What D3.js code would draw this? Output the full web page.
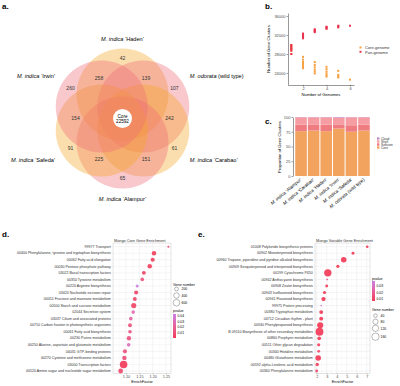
<!DOCTYPE html>
<html lang="en">
<head>
<meta charset="UTF-8">
<title>Mango pan-genome figure</title>
<script src="https://d3js.org/d3.v7.min.js"></script>
<style>
  body { margin: 0; background: #fff; }
  svg { display: block; font-family: "Liberation Sans", Arial, sans-serif; }
  .tick text { fill: #4d4d4d; }
</style>
</head>
<body>
<div class="main"></div>
<script>
// ---------- data ----------
// a. venn (clockwise from top)
var vennSpecies  = ["M. indica", "M. odorata", "M. indica", "M. indica", "M. indica", "M. indica"];
var vennCultivar = [" \u2018Haden\u2019", " (wild type)", " \u2018Carabao\u2019", " \u2018Alampur\u2019", " \u2018Safeda\u2019", " \u2018Irwin\u2019"];
var vennUnique = [42, 107, 61, 65, 91, 260];
var vennPairs  = [139, 242, 151, 225, 154, 258];   // set i with set i+1
var vennCore = 22592;

// b. gene clusters vs number of genomes
var genomeCounts = [1, 2, 3, 4, 5, 6];
var coreClusters = [
  [29900, 29600, 29300, 29000, 28700, 28000],
  [27400, 26800, 26300, 25900, 25500, 25200, 25000],
  [26300, 25700, 25200, 24700, 24300, 23900],
  [25300, 24800, 24300, 23900, 23500, 23250],
  [24450, 23600, 23300, 23050],
  [22600]
];
var panClusters = [
  [29900, 29600, 29300, 29000, 28700, 28000],
  [32300, 32100, 31900, 31800, 31600, 31400, 31300],
  [33200, 33050, 32900, 32750, 32600],
  [33750, 33600, 33450, 33300],
  [33950, 33800, 33600],
  [33950]
];
var bTicksY = [24000, 28000, 32000, 36000];
var bTicksX = [2, 4, 6];

// c. proportion of gene clusters
var cSamples = ["Alampur", "Carabao", "Haden", "Irwin", "Safeda", "odorata"];
var cSpecies = ["M. indica", "M. indica", "M. indica", "M. indica", "M. indica", "M. odorata"];
var cCultivar = [" \u2018Alampur\u2019", " \u2018Carabao\u2019", " \u2018Haden\u2019", " \u2018Irwin\u2019", " \u2018Safeda\u2019", " (wild type)"];
var coreShare     = [76, 77, 76, 80.5, 75, 77];
var softcoreShare = [11, 10.5, 11, 7, 11, 10];
var shellShare    = [12.5, 12, 12.5, 11.5, 13.5, 12.5];
var cloudShare    = [0.5, 0.5, 0.5, 1, 0.5, 0.5];
var cTicks = [0, 25, 50, 75, 100];

// d. core gene enrichment
var dPathways = ["99977 Transport", "00400 Phenylalanine, tyrosine and tryptophan biosynthesis",
  "00062 Fatty acid elongation", "00030 Pentose phosphate pathway", "03022 Basal transcription factors",
  "00350 Tyrosine metabolism", "00220 Arginine biosynthesis", "03420 Nucleotide excision repair",
  "00051 Fructose and mannose metabolism", "00500 Starch and sucrose metabolism", "02044 Secretion system",
  "03037 Cilium and associated proteins", "00710 Carbon fixation in photosynthetic organisms",
  "00061 Fatty acid biosynthesis", "00230 Purine metabolism", "00250 Alanine, aspartate and glutamate metabolism",
  "04031 GTP-binding proteins", "00270 Cysteine and methionine metabolism", "03000 Transcription factors",
  "00520 Amino sugar and nucleotide sugar metabolism"];
var dEnrich = [1.259, 1.205, 1.200, 1.189, 1.167, 1.161, 1.142, 1.138, 1.133, 1.129, 1.127, 1.118, 1.115, 1.115, 1.111, 1.110, 1.096, 1.094, 1.091, 1.080];
var dGenes  = [60, 260, 230, 270, 200, 170, 120, 220, 200, 350, 170, 170, 200, 170, 250, 170, 220, 250, 760, 300];
var dPvalue = [0.008, 0.002, 0.004, 0.003, 0.006, 0.012, 0.043, 0.006, 0.006, 0.005, 0.028, 0.022, 0.012, 0.015, 0.014, 0.033, 0.012, 0.010, 0.001, 0.008];
var dTicks = [1.10, 1.15, 1.20, 1.25];
var dSizeLegend = [200, 400, 600];
var dPTicks = [0.01, 0.02, 0.03, 0.04];

// e. variable gene enrichment
var ePathways = ["01008 Polyketide biosynthesis proteins", "00902 Monoterpenoid biosynthesis",
  "00960 Tropane, piperidine and pyridine alkaloid biosynthesis", "00909 Sesquiterpenoid and triterpenoid biosynthesis",
  "00199 Cytochrome P450", "00942 Anthocyanin biosynthesis", "00908 Zeatin biosynthesis",
  "00943 Isoflavonoid biosynthesis", "00941 Flavonoid biosynthesis", "99975 Protein processing",
  "00380 Tryptophan metabolism", "04712 Circadian rhythm - plant", "00940 Phenylpropanoid biosynthesis",
  "B  09110 Biosynthesis of other secondary metabolites", "00860 Porphyrin metabolism", "00511 Other glycan degradation",
  "00340 Histidine metabolism", "00480 Glutathione metabolism", "00592 alpha-Linolenic acid metabolism",
  "00360 Phenylalanine metabolism"];
var eEnrich = [7.05, 5.63, 4.70, 4.12, 3.11, 3.05, 3.00, 2.78, 2.68, 2.45, 2.45, 2.45, 2.35, 2.28, 2.25, 2.20, 2.20, 2.15, 2.05, 2.00];
var eGenes  = [20, 25, 90, 30, 160, 10, 25, 30, 55, 8, 45, 45, 110, 180, 40, 30, 25, 90, 35, 25];
var ePvalue = [0.008, 0.007, 0.007, 0.007, 0.007, 0.020, 0.008, 0.007, 0.007, 0.035, 0.007, 0.008, 0.007, 0.007, 0.008, 0.010, 0.012, 0.007, 0.010, 0.012];
var eTicks = [2, 3, 4, 5, 6, 7];
var eSizeLegend = [40, 80, 120, 160];
var ePTicks = [0.01, 0.02, 0.03];

// ---------- drawing ----------
var width = 400, height = 386;
var svg = d3.select(".main").append("svg").attr("width", width).attr("height", height);

function panelLabel(x, y, t) {
  svg.append("text").attr("x", x).attr("y", y).style("font-size", "8px").style("font-weight", "bold").text(t);
}
function italicLabel(g, sp, cv) {
  g.append("tspan").style("font-style", "italic").text(sp);
  g.append("tspan").text(cv);
}
function thinAxis(g) {
  g.selectAll("text").style("font-size", "4px");
  g.selectAll("line,path").style("stroke-width", 0.4);
}

// ===== a. venn =====
panelLabel(2, 9, "a.");
var vcx = 122.5, vcy = 118.5, vDist = 24, vR = 46;
var vennColors = ["#F5A623", "#EE6A78"];
function polar(deg, r) {
  var a = deg * Math.PI / 180;
  return [vcx + r * Math.cos(a), vcy - r * Math.sin(a)];
}
var setAngles = vennUnique.map(function(d, i) { return 90 - 60 * i; });
var va = svg.append("g");
va.selectAll("circle.set").data(setAngles).join("circle")
  .attr("class", "set")
  .attr("cx", function(d) { return polar(d, vDist)[0]; })
  .attr("cy", function(d) { return polar(d, vDist)[1]; })
  .attr("r", vR)
  .style("fill", function(d, i) { return vennColors[i % 2]; })
  .style("fill-opacity", 0.37);

va.selectAll("text.uniq").data(vennUnique).join("text")
  .attr("x", function(d, i) { return polar(setAngles[i], 60)[0]; })
  .attr("y", function(d, i) { return polar(setAngles[i], 60)[1] + 1.8; })
  .attr("text-anchor", "middle").style("font-size", "5px").style("fill", "#333")
  .text(function(d) { return d; });
va.selectAll("text.pair").data(vennPairs).join("text")
  .attr("x", function(d, i) { return polar(setAngles[i] - 30, 47)[0]; })
  .attr("y", function(d, i) { return polar(setAngles[i] - 30, 47)[1] + 1.8; })
  .attr("text-anchor", "middle").style("font-size", "5px").style("fill", "#333")
  .text(function(d) { return d; });

va.append("circle").attr("cx", vcx).attr("cy", vcy).attr("r", 9.5).style("fill", "#fff");
va.append("text").attr("x", vcx).attr("y", vcy - 0.5).attr("text-anchor", "middle").style("font-size", "4.6px").text("Core");
va.append("text").attr("x", vcx).attr("y", vcy + 4.5).attr("text-anchor", "middle").style("font-size", "4.6px").text(vennCore);

vennSpecies.forEach(function(sp, i) {
  var ang = setAngles[i];
  var p = polar(ang, 80);
  var c = Math.cos(ang * Math.PI / 180);
  var anchor = Math.abs(c) < 0.1 ? "middle" : (c > 0 ? "start" : "end");
  var dy = Math.abs(c) < 0.1 ? 2 : (Math.sin(ang * Math.PI / 180) > 0 ? -0.5 : 3.5);
  var t = svg.append("text").attr("x", p[0] + (anchor == "start" ? -2 : anchor == "end" ? 2 : 0)).attr("y", p[1] + dy)
    .attr("text-anchor", anchor).style("font-size", "5.6px");
  italicLabel(t, sp, vennCultivar[i]);
});

// ===== b. scatter =====
panelLabel(265, 9, "b.");
var bx = d3.scaleLinear().domain([0.72, 6.34]).range([288, 354]);
var by = d3.scaleLinear().domain([21470, 36630]).range([85, 13]);
var gb = svg.append("g");
gb.append("g").attr("transform", "translate(288,0)")
  .call(d3.axisLeft(by).tickValues(bTicksY).tickFormat(d3.format("d")).tickSize(1.5).tickPadding(1).tickSizeOuter(0))
  .call(thinAxis);
gb.append("g").attr("transform", "translate(0,85)")
  .call(d3.axisBottom(bx).tickValues(bTicksX).tickFormat(d3.format("d")).tickSize(1.5).tickPadding(1).tickSizeOuter(0))
  .call(thinAxis);
gb.append("text").attr("transform", "translate(270,49) rotate(-90)").attr("text-anchor", "middle")
  .style("font-size", "4.2px").text("Number of Gene Clusters");
gb.append("text").attr("x", 321).attr("y", 96).attr("text-anchor", "middle").style("font-size", "4.2px").text("Number of Genomes");

var bColors = { core: "#F7A040", pan: "#E8344E" };
[["core", coreClusters], ["pan", panClusters]].forEach(function(s) {
  var pts = [];
  s[1].forEach(function(vals, i) { vals.forEach(function(v) { pts.push([genomeCounts[i], v]); }); });
  gb.selectAll(null).data(pts).join("rect")
    .attr("x", function(d) { return bx(d[0]) - 1; })
    .attr("y", function(d) { return by(d[1]) - 1; })
    .attr("width", 2).attr("height", 2)
    .style("fill", bColors[s[0]]);
});
[["Core-genome", "core"], ["Pan-genome", "pan"]].forEach(function(l, i) {
  gb.append("rect").attr("x", 359.5).attr("y", 46.5 + i * 4.3).attr("width", 2).attr("height", 2).style("fill", bColors[l[1]]);
  gb.append("text").attr("x", 365).attr("y", 49.2 + i * 4.3).style("font-size", "4px").style("fill", "#333").text(l[0]);
});

// ===== c. stacked bars =====
panelLabel(265, 124, "c.");
var cKeys = ["Core", "Softcore", "Shell", "Cloud"];
var cColors = { Core: "#F2A35E", Softcore: "#EE7C80", Shell: "#F59DA2", Cloud: "#C48BC8" };
var cRows = cSamples.map(function(s, i) {
  return { sample: s, Core: coreShare[i], Softcore: softcoreShare[i], Shell: shellShare[i], Cloud: cloudShare[i] };
});
var cxs = d3.scaleBand().domain(cSamples).range([295, 370]).paddingInner(0.08).paddingOuter(0.02);
var cys = d3.scaleLinear().domain([0, 100]).range([176, 117]);
var gc = svg.append("g");
var stacked = d3.stack().keys(cKeys)(cRows);
gc.selectAll("g.layer").data(stacked).join("g").attr("class", "layer")
  .style("fill", function(d) { return cColors[d.key]; })
  .selectAll("rect").data(function(d) { return d; }).join("rect")
  .attr("x", function(d) { return cxs(d.data.sample); })
  .attr("y", function(d) { return cys(d[1]); })
  .attr("width", cxs.bandwidth())
  .attr("height", function(d) { return cys(d[0]) - cys(d[1]); });
gc.append("g").attr("transform", "translate(293,0)")
  .call(d3.axisLeft(cys).tickValues(cTicks).tickSize(1.5).tickPadding(1).tickSizeOuter(0))
  .call(thinAxis);
gc.append("text").attr("transform", "translate(281,147) rotate(-90)").attr("text-anchor", "middle")
  .style("font-size", "4.2px").text("Proportion of Gene Clusters");
cSamples.forEach(function(s, i) {
  var x = cxs(s) + cxs.bandwidth() / 2 + 1;
  var t = gc.append("text").attr("transform", "translate(" + x + ",180) rotate(-40)")
    .attr("text-anchor", "end").style("font-size", "4.6px");
  italicLabel(t, cSpecies[i], cCultivar[i]);
});
cKeys.slice().reverse().forEach(function(k, i) {
  gc.append("rect").attr("x", 377).attr("y", 137.3 + i * 3).attr("width", 2.4).attr("height", 2.4).style("fill", cColors[k]);
  gc.append("text").attr("x", 381).attr("y", 139.5 + i * 3).style("font-size", "3.2px").style("fill", "#333").text(k);
});

// ===== d / e. enrichment bubble charts =====
function bubblePanel(o) {
  var g = svg.append("g");
  var x = d3.scaleLinear().domain(o.xDomain).range(o.xRange);
  var y = d3.scalePoint().domain(o.pathways).range([246.7, 371]);
  var size = d3.scaleSqrt().domain(o.sizeDomain).range([0, o.maxR]);
  var col = d3.scaleLinear().domain(o.pDomain).range(["#F23A57", "#C980E6"]).interpolate(d3.interpolateLab).clamp(true);

  g.append("rect").attr("x", o.left).attr("y", 243).attr("width", o.right - o.left).attr("height", 130.3)
    .style("fill", "#fff");
  // grid
  var step = (o.ticks[1] - o.ticks[0]) / 2;
  var minor = o.ticks.map(function(t) { return t - step; }).concat([o.ticks[o.ticks.length - 1] + step])
    .filter(function(t) { return x(t) > o.left && x(t) < o.right; });
  g.selectAll(null).data(minor).join("line")
    .attr("x1", function(d) { return x(d); }).attr("x2", function(d) { return x(d); })
    .attr("y1", 243).attr("y2", 373.3).style("stroke", "#F2F2F2").style("stroke-width", 0.3);
  g.selectAll(null).data(o.ticks).join("line")
    .attr("x1", function(d) { return x(d); }).attr("x2", function(d) { return x(d); })
    .attr("y1", 243).attr("y2", 373.3).style("stroke", "#E6E6E6").style("stroke-width", 0.4);
  g.selectAll(null).data(o.pathways).join("line")
    .attr("x1", o.left).attr("x2", o.right)
    .attr("y1", function(d) { return y(d); }).attr("y2", function(d) { return y(d); })
    .style("stroke", "#E6E6E6").style("stroke-width", 0.4);
  g.append("rect").attr("x", o.left).attr("y", 243).attr("width", o.right - o.left).attr("height", 130.3)
    .style("fill", "none").style("stroke", "#BDBDBD").style("stroke-width", 0.4);

  // axes
  g.append("g").attr("transform", "translate(0,373.3)")
    .call(d3.axisBottom(x).tickValues(o.ticks).tickFormat(o.fmt).tickSize(1.2).tickPadding(0.8).tickSizeOuter(0))
    .call(function(a) { a.select(".domain").remove(); a.selectAll("text").style("font-size", "3.8px"); a.selectAll("line").style("stroke", "#444").style("stroke-width", 0.3); });
  g.selectAll("text.row").data(o.pathways).join("text").attr("class", "row")
    .attr("x", o.left - 2.2).attr("y", function(d) { return y(d) + 1.2; })
    .attr("text-anchor", "end").style("font-size", "3.6px").style("fill", "#333").text(function(d) { return d; });
  g.append("text").attr("x", (o.left + o.right) / 2).attr("y", 383).attr("text-anchor", "middle")
    .style("font-size", "3.8px").text("EnrichFactor");
  g.append("text").attr("x", o.left + 1).attr("y", 241.5).style("font-size", "3.8px").style("fill", "#333").text(o.title);

  // bubbles
  var pts = o.pathways.map(function(p, i) { return { p: p, e: o.enrich[i], n: o.genes[i], v: o.pvalue[i] }; });
  g.selectAll("circle.pt").data(pts).join("circle").attr("class", "pt")
    .attr("cx", function(d) { return x(d.e); }).attr("cy", function(d) { return y(d.p); })
    .attr("r", function(d) { return size(d.n); })
    .style("fill", function(d) { return col(d.v); }).style("fill-opacity", 0.92);

  // gene number legend
  g.append("text").attr("x", o.lx).attr("y", o.sizeTitleY).style("font-size", "3.6px").text("Gene number");
  o.sizeLegend.forEach(function(n, i) {
    var cy = o.sizeY[i];
    g.append("circle").attr("cx", o.lx + 3.5).attr("cy", cy).attr("r", size(n))
      .style("fill", "none").style("stroke", "#333").style("stroke-width", 0.35);
    g.append("text").attr("x", o.lx + 8.5).attr("y", cy + 1.2).style("font-size", "3.4px").text(n);
  });

  // pvalue colour bar
  g.append("text").attr("x", o.lx).attr("y", o.pTitleY).style("font-size", "3.6px").text("pvalue");
  var py = d3.scaleLinear().domain(o.pDomain).range([o.barBottom, o.barTop]);
  var gid = "grad" + o.left;
  var grad = svg.append("defs").append("linearGradient").attr("id", gid)
    .attr("x1", 0).attr("y1", 1).attr("x2", 0).attr("y2", 0);
  d3.range(0, 1.01, 0.1).forEach(function(t) {
    grad.append("stop").attr("offset", t).attr("stop-color", col(o.pDomain[0] + t * (o.pDomain[1] - o.pDomain[0])));
  });
  g.append("rect").attr("x", o.lx).attr("y", o.barTop).attr("width", 3).attr("height", o.barBottom - o.barTop)
    .style("fill", "url(#" + gid + ")");
  o.pTicks.forEach(function(p) {
    g.append("text").attr("x", o.lx + 4.5).attr("y", py(p) + 1.2).style("font-size", "3.4px").text(p.toFixed(2));
  });
}

panelLabel(2, 237, "d.");
bubblePanel({
  pathways: dPathways, enrich: dEnrich, genes: dGenes, pvalue: dPvalue,
  xDomain: [1.10, 1.25], xRange: [126, 166], left: 113, right: 171, ticks: dTicks,
  fmt: d3.format(".2f"), sizeDomain: [0, 760], maxR: 3.8, pDomain: [0, 0.044],
  title: "Mango Core Gene Enrichment",
  lx: 173, sizeTitleY: 285.5, sizeLegend: dSizeLegend, sizeY: [289, 295.5, 302.7],
  pTitleY: 312, barTop: 314, barBottom: 338, pTicks: dPTicks
});

panelLabel(198, 237, "e.");
bubblePanel({
  pathways: ePathways, enrich: eEnrich, genes: eGenes, pvalue: ePvalue,
  xDomain: [2, 7], xRange: [316.7, 366.7], left: 315, right: 370, ticks: eTicks,
  fmt: d3.format("d"), sizeDomain: [0, 180], maxR: 3.9, pDomain: [0.007, 0.038],
  title: "Mango Variable Gene Enrichment",
  lx: 372, sizeTitleY: 310.5, sizeLegend: eSizeLegend, sizeY: [315.7, 321.7, 328.3, 336.7],
  pTitleY: 279.5, barTop: 281, barBottom: 301, pTicks: ePTicks
});
</script>
</body>
</html>
